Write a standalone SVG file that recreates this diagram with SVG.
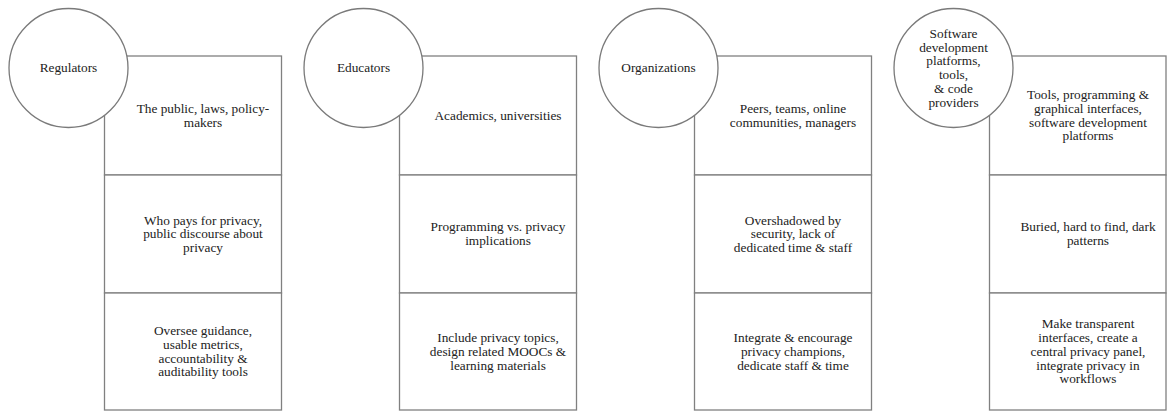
<svg xmlns="http://www.w3.org/2000/svg" width="1167" height="411" viewBox="0 0 1167 411" font-family="Liberation Serif, DejaVu Serif, serif">
<style>
.box{fill:#fff;stroke:#808080;stroke-width:1.3}
.circ{fill:#fff;stroke:#7a7a7a;stroke-width:1.3}
.t{font-family:'Liberation Serif','DejaVu Serif',serif;font-size:13.3px;fill:#222;text-anchor:middle}
</style>
<rect width="1167" height="411" fill="#fff"/>

<g id="col-regulators">
  <g id="reg-box1"><rect class="box" x="104.5" y="56" width="177" height="119"/>
    <text class="t"><tspan x="203" y="112.9">The public, laws, policy-</tspan><tspan x="203" y="126.6">makers</tspan></text></g>
  <g id="reg-box2"><rect class="box" x="104.5" y="175" width="177" height="118"/>
    <text class="t"><tspan x="203" y="224.6">Who pays for privacy,</tspan><tspan x="203" y="238.3">public discourse about</tspan><tspan x="203" y="252">privacy</tspan></text></g>
  <g id="reg-box3"><rect class="box" x="104.5" y="293" width="177" height="117"/>
    <text class="t"><tspan x="203" y="335.2">Oversee guidance,</tspan><tspan x="203" y="348.9">usable metrics,</tspan><tspan x="203" y="362.6">accountability &amp;</tspan><tspan x="203" y="376.3">auditability tools</tspan></text></g>
  <g id="reg-circle"><circle class="circ" cx="68.5" cy="68" r="59.5"/>
    <text class="t" x="68.5" y="72.3">Regulators</text></g>
</g>

<g id="col-educators">
  <g id="edu-box1"><rect class="box" x="399.5" y="56" width="177" height="119"/>
    <text class="t" x="498" y="119.8">Academics, universities</text></g>
  <g id="edu-box2"><rect class="box" x="399.5" y="175" width="177" height="118"/>
    <text class="t"><tspan x="498" y="231.4">Programming vs. privacy</tspan><tspan x="498" y="245.1">implications</tspan></text></g>
  <g id="edu-box3"><rect class="box" x="399.5" y="293" width="177" height="117"/>
    <text class="t"><tspan x="498" y="342.1">Include privacy topics,</tspan><tspan x="498" y="355.8">design related MOOCs &amp;</tspan><tspan x="498" y="369.5">learning materials</tspan></text></g>
  <g id="edu-circle"><circle class="circ" cx="363.5" cy="68" r="59.5"/>
    <text class="t" x="363.5" y="72.3">Educators</text></g>
</g>

<g id="col-organizations">
  <g id="org-box1"><rect class="box" x="694.5" y="56" width="177" height="119"/>
    <text class="t"><tspan x="793" y="112.9">Peers, teams, online</tspan><tspan x="793" y="126.6">communities, managers</tspan></text></g>
  <g id="org-box2"><rect class="box" x="694.5" y="175" width="177" height="118"/>
    <text class="t"><tspan x="793" y="224.6">Overshadowed by</tspan><tspan x="793" y="238.3">security, lack of</tspan><tspan x="793" y="252">dedicated time &amp; staff</tspan></text></g>
  <g id="org-box3"><rect class="box" x="694.5" y="293" width="177" height="117"/>
    <text class="t"><tspan x="793" y="342.1">Integrate &amp; encourage</tspan><tspan x="793" y="355.8">privacy champions,</tspan><tspan x="793" y="369.5">dedicate staff &amp; time</tspan></text></g>
  <g id="org-circle"><circle class="circ" cx="658.5" cy="68" r="59.5"/>
    <text class="t" x="658.5" y="72.3">Organizations</text></g>
</g>

<g id="col-software">
  <g id="sw-box1"><rect class="box" x="989.5" y="56" width="176.5" height="119"/>
    <text class="t"><tspan x="1088" y="99.2">Tools, programming &amp;</tspan><tspan x="1088" y="112.9">graphical interfaces,</tspan><tspan x="1088" y="126.6">software development</tspan><tspan x="1088" y="140.3">platforms</tspan></text></g>
  <g id="sw-box2"><rect class="box" x="989.5" y="175" width="176.5" height="118"/>
    <text class="t"><tspan x="1088" y="231.4">Buried, hard to find, dark</tspan><tspan x="1088" y="245.1">patterns</tspan></text></g>
  <g id="sw-box3"><rect class="box" x="989.5" y="293" width="176.5" height="117"/>
    <text class="t"><tspan x="1088" y="328.4">Make transparent</tspan><tspan x="1088" y="342.1">interfaces, create a</tspan><tspan x="1088" y="355.8">central privacy panel,</tspan><tspan x="1088" y="369.5">integrate privacy in</tspan><tspan x="1088" y="383.2">workflows</tspan></text></g>
  <g id="sw-circle"><circle class="circ" cx="953.5" cy="68" r="59.5"/>
    <text class="t"><tspan x="953.5" y="37.8">Software</tspan><tspan x="953.5" y="51.6">development</tspan><tspan x="953.5" y="65.4">platforms,</tspan><tspan x="953.5" y="79.2">tools,</tspan><tspan x="953.5" y="93">&amp; code</tspan><tspan x="953.5" y="106.8">providers</tspan></text></g>
</g>
<g id="connectors"/>
</svg>
